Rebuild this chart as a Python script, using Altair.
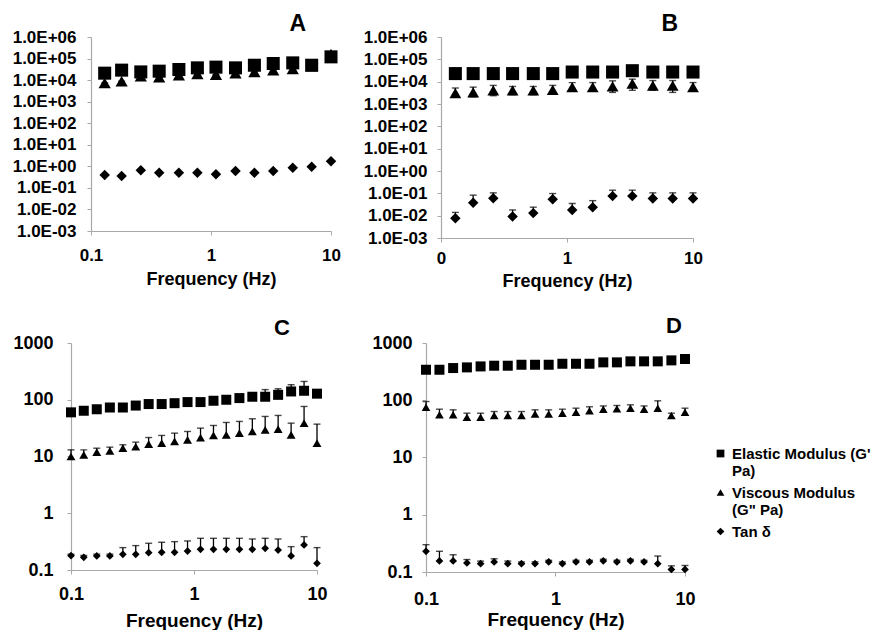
import json
import altair as alt
import pandas as pd

FONT = "Liberation Sans"
SERIES = ["Elastic Modulus (G' Pa)", 'Viscous Modulus (G" Pa)', "Tan δ"]
LEGEND_LINES = [["Elastic Modulus (G'", "Pa)"], ["Viscous Modulus", '(G" Pa)'], ["Tan δ"]]
SHAPES = ["square", "triangle-up", "diamond"]

# ---- Panel A / B frequencies (Hz)
freq_AB = [0.13, 0.18, 0.26, 0.37, 0.54, 0.77, 1.1, 1.6, 2.3, 3.3, 4.8, 6.9, 10]

A_gp = [2.1e4, 2.9e4, 2.4e4, 2.6e4, 3.1e4, 3.7e4, 4.0e4, 3.7e4, 4.9e4, 5.9e4, 6.3e4, 4.9e4, 1.2e5]
A_gpp = [7.4e3, 8.9e3, 1.5e4, 1.35e4, 1.7e4, 1.95e4, 1.8e4, 2.1e4, 2.4e4, 2.9e4, 3.3e4, 4.4e4, 1.6e5]
A_tan = [0.40, 0.36, 0.65, 0.50, 0.50, 0.50, 0.43, 0.60, 0.50, 0.60, 0.86, 0.95, 1.7]

B_gp = [2.3e4, 2.3e4, 2.3e4, 2.3e4, 2.3e4, 2.3e4, 2.7e4, 2.7e4, 2.7e4, 3.1e4, 2.7e4, 2.7e4, 2.7e4]
B_gpp = [3.1e3, 3.3e3, 4.1e3, 4.1e3, 4.1e3, 4.3e3, 5.7e3, 5.7e3, 6.1e3, 8.1e3, 6.6e3, 6.6e3, 5.7e3]
B_gpp_hi = [5.2e3, 5.7e3, 6.8e3, 6.1e3, 6.1e3, 6.8e3, 9.1e3, 9.1e3, 1.09e4, 1.29e4, 1.12e4, 1.12e4, 9.1e3]
B_gpp_lo = [2.1e3, 2.1e3, 2.35e3, 2.6e3, 2.6e3, 2.9e3, 3.7e3, 3.7e3, 3.3e3, 4.1e3, 4.1e3, 3.3e3, 4.1e3]
B_tan = [0.0077, 0.038, 0.060, 0.0092, 0.013, 0.055, 0.018, 0.024, 0.075, 0.075, 0.059, 0.059, 0.059]
B_tan_hi = [0.014, 0.083, 0.105, 0.018, 0.024, 0.098, 0.035, 0.047, 0.138, 0.138, 0.105, 0.105, 0.105]

# ---- Panel C / D frequencies (Hz)
freq_CD = [0.1, 0.127, 0.162, 0.207, 0.264, 0.336, 0.428, 0.546, 0.695, 0.886,
           1.13, 1.44, 1.83, 2.34, 2.98, 3.79, 4.83, 6.16, 7.85, 10.0]

C_gp = [60, 64, 68, 73, 73, 79, 84, 84, 87, 91, 91, 96, 100, 107, 113, 113, 122, 140, 144, 128]
C_gp_hi = [66, 70, 75, 80, 80, 87, 92, 92, 96, 100, 100, 106, 110, 118, 125, 151, 156, 184, 210, 140]
C_gpp = [10, 10.7, 11.9, 12.6, 14.0, 15.0, 16.5, 17.2, 18.4, 19.7, 21.6, 23.5, 24.1, 25.8, 27.6, 29.5, 30.3, 24.1, 38.7, 17.2]
C_gpp_hi = [13.1, 13.1, 14.0, 14.6, 16.1, 17.9, 21.6, 23.5, 25.8, 27.6, 31.6, 35.2, 39.8, 41.5, 46.2, 50.8, 52.9, 38.7, 76.2, 37.2]
C_tan = [0.179, 0.167, 0.177, 0.177, 0.189, 0.189, 0.202, 0.205, 0.205, 0.216, 0.232, 0.232, 0.232, 0.232, 0.232, 0.241, 0.225, 0.177, 0.276, 0.131]
C_tan_hi = [0.19, 0.18, 0.19, 0.19, 0.248, 0.269, 0.296, 0.308, 0.316, 0.325, 0.362, 0.362, 0.362, 0.362, 0.352, 0.362, 0.352, 0.258, 0.387, 0.248]

D_gp = [341, 341, 365, 375, 390, 401, 401, 417, 417, 417, 434, 434, 434, 459, 459, 478, 478, 478, 497, 525]
D_gpp = [75.7, 55.6, 55.6, 50.6, 50.6, 54.1, 54.1, 54.1, 57.8, 57.8, 59.4, 61.8, 65.3, 69.8, 70.8, 72.7, 69.8, 72.7, 54.1, 61.8]
D_gpp_hi = [95, 69.8, 68, 59.4, 59.4, 63.5, 63.5, 63.5, 68, 68, 69.8, 72.7, 76.9, 79.5, 81, 83.2, 79.5, 97.7, 59.4, 72.7]
D_tan = [0.230, 0.156, 0.156, 0.144, 0.140, 0.150, 0.140, 0.140, 0.140, 0.150, 0.140, 0.150, 0.150, 0.156, 0.150, 0.156, 0.150, 0.140, 0.111, 0.111]
D_tan_hi = [0.30, 0.23, 0.20, 0.165, 0.155, 0.17, 0.155, 0.15, 0.15, 0.16, 0.15, 0.16, 0.16, 0.167, 0.16, 0.167, 0.16, 0.19, 0.128, 0.13]

Y_TICKS_AB = [1e-3, 1e-2, 1e-1, 1e0, 1e1, 1e2, 1e3, 1e4, 1e5, 1e6]
Y_TICKS_CD = [0.1, 1, 10, 100, 1000]
X_TICKS = [0.1, 1, 10]


def frame(freq, vals, his=None, los=None):
    rows = []
    for s, v_list, h_list, l_list in zip(SERIES, vals, his or [None] * 3, los or [None] * 3):
        for i, f in enumerate(freq):
            v = v_list[i]
            h = h_list[i] if h_list else v
            l = l_list[i] if l_list else v
            rows.append({"f": f, "v": v, "hi": h, "lo": l, "s": s})
    return pd.DataFrame(rows)


exp_label = ("'1.0E' + (round(log(datum.value)/LN10) < 0 ? '-' : '+') + "
             "(abs(round(log(datum.value)/LN10)) < 10 ? '0' : '') + abs(round(log(datum.value)/LN10))")

legend_expr = (f"datum.value == {json.dumps(SERIES[0])} ? {json.dumps(LEGEND_LINES[0])} : "
               f"datum.value == {json.dumps(SERIES[1])} ? {json.dumps(LEGEND_LINES[1])} : "
               f"{json.dumps(LEGEND_LINES[2])}")


def panel(df, letter, dx, toff, width, height, ydomain, yvalues, ylabel, xlabel, fs, title_fs,
          sizes, ypad, xlab_pad, xtitle_pad, legend=None, lower=False, cap=7):
    xax = alt.Axis(values=X_TICKS, labelExpr=xlabel, title="Frequency (Hz)", grid=False,
                   labelFontSize=fs, titleFontSize=fs + 1, labelPadding=xlab_pad,
                   titlePadding=xtitle_pad, tickSize=4, labelFlush=False)
    yax = alt.Axis(values=yvalues, labelExpr=ylabel, title=None, grid=False,
                   labelFontSize=fs, labelPadding=ypad, tickSize=4)
    x = alt.X("f:Q", scale=alt.Scale(type="log", domain=[0.1, 10], nice=False), axis=xax)
    ysc = alt.Scale(type="log", domain=ydomain, nice=False)
    base = alt.Chart(df)
    rule = base.mark_rule(color="black", strokeWidth=1.3).encode(
        x=x, y=alt.Y("lo:Q", scale=ysc, axis=yax), y2="hi:Q")
    caps = base.mark_tick(color="black", orient="horizontal", size=cap, thickness=1.4).encode(
        x=x, y=alt.Y("hi:Q", scale=ysc, axis=yax))
    layers = [rule, caps]
    if lower:
        layers.append(base.mark_tick(color="black", orient="horizontal", size=cap, thickness=1.4)
                      .encode(x=x, y=alt.Y("lo:Q", scale=ysc, axis=yax)))
    shape = alt.Shape("s:N", scale=alt.Scale(domain=SERIES, range=SHAPES), legend=legend)
    for name, sz in zip(SERIES, sizes):
        layers.append(
            base.transform_filter(alt.datum.s == name)
            .mark_point(filled=True, color="black", opacity=1, size=sz)
            .encode(x=x, y=alt.Y("v:Q", scale=ysc, axis=yax), shape=shape)
        )
    return alt.layer(*layers).properties(
        width=width, height=height,
        title=alt.TitleParams(letter, anchor="end", frame="group", dx=dx, fontSize=title_fs,
                              font=FONT, fontWeight="bold", color="black", offset=toff),
    )


def spacer():
    return alt.Chart(pd.DataFrame({"z": [0]})).mark_point(opacity=0, size=1) \
        .properties(width=1, height=1)


dfA = frame(freq_AB, [A_gp, A_gpp, A_tan])
dfB = frame(freq_AB, [B_gp, B_gpp, B_tan], [None, B_gpp_hi, B_tan_hi], [None, B_gpp_lo, None])
dfC = frame(freq_CD, [C_gp, C_gpp, C_tan], [C_gp_hi, C_gpp_hi, C_tan_hi])
dfD = frame(freq_CD, [D_gp, D_gpp, D_tan], [None, D_gpp_hi, D_tan_hi])

fmt = "format(datum.value, '~g')"
pA = panel(dfA, "A", -25, -8, 240, 194, [1e-3, 1e6], Y_TICKS_AB, exp_label, fmt, 17, 23,
           [170, 150, 110], 11, 12, 7)
pB = panel(dfB, "B", -15, -8, 252, 201, [1e-3, 1e6], Y_TICKS_AB, exp_label,
           "datum.value < 1 ? '0' : " + fmt, 17, 23, [170, 140, 110], 10, 8, 6, lower=True)
pC = panel(dfC, "C", -27, -6, 246, 227, [0.1, 1000], Y_TICKS_CD, fmt, fmt, 18, 22,
           [100, 80, 60], 14, 11, 8)
legD = alt.Legend(title=None, orient="none", legendX=287, legendY=103, labelFontSize=15,
                  labelFont=FONT, labelFontWeight="bold", labelColor="black",
                  labelExpr=legend_expr, symbolSize=60, symbolFillColor="black",
                  symbolStrokeColor="black", labelLimit=400, rowPadding=6, labelOffset=4,
                  padding=0)
pD = panel(dfD, "D", -3, -4, 259, 229, [0.1, 1000], Y_TICKS_CD, fmt, fmt, 18, 22,
           [100, 75, 60], 10, 14, 2, legend=legD)


def indep(c):
    return c.resolve_scale(shape="independent").resolve_legend(shape="independent")


row1 = indep(alt.hconcat(spacer(), indep(alt.hconcat(pA, pB, spacing=22)), spacing=0))
row2 = indep(alt.hconcat(spacer(), indep(alt.hconcat(pC, pD, spacing=43)), spacing=0))

chart = indep(alt.vconcat(row1, row2, spacing=25)) \
    .properties(padding={"left": 3, "top": 5, "right": 0, "bottom": 0}, background="white") \
    .configure_view(stroke=None) \
    .configure_axis(labelFont=FONT, labelFontWeight="bold", labelColor="black",
                    titleFont=FONT, titleFontWeight="bold", titleColor="black",
                    domainColor="#a8a8a8", tickColor="#a8a8a8", domainWidth=1.2) \
    .configure_legend(labelFont=FONT)

chart.save("out.html", embed_options={"renderer": "svg", "actions": False})
